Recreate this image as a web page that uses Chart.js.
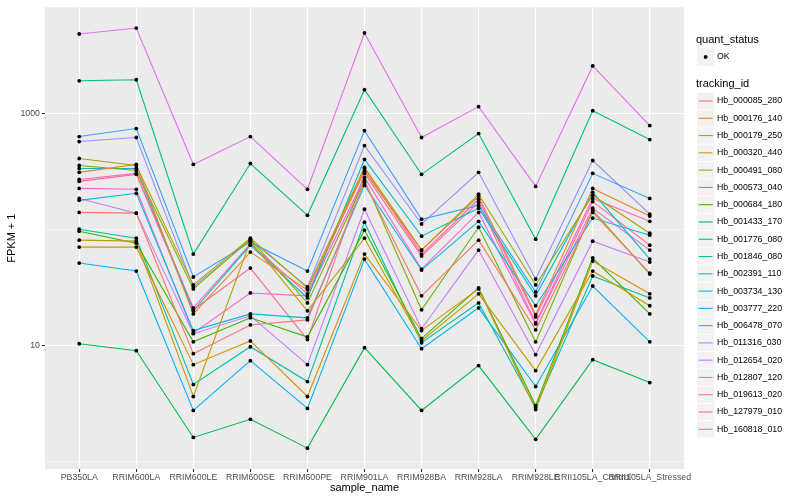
<!DOCTYPE html>
<html><head><meta charset="utf-8">
<script src="https://cdn.jsdelivr.net/npm/chart.js@4.4.0/dist/chart.umd.min.js"></script>
<style>html,body{margin:0;padding:0;background:#fff;}canvas{display:block;}</style>
</head><body>
<canvas id="c" width="800" height="500"></canvas>
<script>
// ---- data ----
const sampleNames = ['PB350LA','RRIM600LA','RRIM600LE','RRIM600SE','RRIM600PE','RRIM901LA','RRIM928BA','RRIM928LA','RRIM928LE','RRII105LA_Control','RRII105LA_Stressed'];
const trackingIds = ['Hb_000085_280','Hb_000176_140','Hb_000179_250','Hb_000320_440','Hb_000491_080','Hb_000573_040','Hb_000684_180','Hb_001433_170','Hb_001776_080','Hb_001846_080','Hb_002391_110','Hb_003734_130','Hb_003777_220','Hb_006478_070','Hb_011316_030','Hb_012654_020','Hb_012807_120','Hb_019613_020','Hb_127979_010','Hb_160818_010'];
const quantStatus = ['OK'];
const yTicks = [1, 10, 100, 1000];
const yTickLabels = ['', '10', '', '1000'];

const hb_000085_280 = [141, 139, 8.54, 15.1, 16.7, 256, 26.9, 81.3, 13.7, 141, 42.3];
const hb_000176_140 = [312, 365, 18.8, 64.1, 30.3, 318, 66.7, 194, 18.5, 227, 131];
const hb_000179_250 = [70.8, 70.8, 6.87, 11.0, 3.65, 61.6, 13.5, 30.9, 2.82, 53.7, 28.0];
const hb_000320_440 = [81.3, 79.7, 3.65, 79.7, 20.0, 84.6, 11.0, 28.0, 6.10, 44.0, 22.1];
const hb_000491_080 = [411, 358, 33.4, 84.6, 31.5, 344, 66.7, 202, 33.4, 198, 93.3];
const hb_000573_040 = [358, 324, 30.9, 82.9, 23.4, 266, 20.4, 105, 10.8, 147, 41.5];
const hb_000684_180 = [97.1, 76.6, 10.8, 17.4, 11.9, 99.0, 11.5, 31.5, 3.05, 57.0, 18.8];
const hb_001433_170 = [10.4, 9.06, 1.62, 2.32, 1.31, 9.62, 2.77, 6.74, 1.56, 7.58, 4.81];
const hb_001776_080 = [1920, 1960, 61.6, 372, 133, 1610, 300, 674, 82.9, 1061, 598];
const hb_001846_080 = [101, 84.6, 4.63, 9.80, 4.91, 116, 10.6, 23.4, 2.94, 39.9, 25.8];
const hb_002391_110 = [337, 337, 20.0, 73.6, 25.8, 403, 88.0, 153, 26.9, 210, 55.8];
const hb_003734_130 = [179, 206, 13.5, 18.8, 17.4, 241, 44.9, 118, 22.1, 126, 89.7];
const hb_003777_220 = [51.6, 44.0, 2.77, 7.43, 2.88, 55.8, 9.43, 21.2, 4.45, 32.7, 10.8];
const hb_006478_070 = [635, 744, 39.1, 78.1, 44.0, 715, 123, 162, 29.1, 306, 186];
const hb_011316_030 = [575, 623, 32.1, 81.3, 32.1, 531, 112, 312, 37.6, 395, 136];
const hb_012654_020 = [186, 139, 12.7, 18.1, 6.87, 150, 14.0, 66.7, 8.37, 79.7, 52.6];
const hb_012807_120 = [4860, 5470, 365, 635, 223, 4960, 623, 1150, 236, 2580, 789];
const hb_019613_020 = [227, 223, 12.9, 28.5, 26.9, 282, 45.8, 141, 15.4, 153, 66.7];
const hb_127979_010 = [271, 306, 21.2, 75.1, 28.0, 337, 61.6, 183, 17.7, 186, 118];
const hb_160818_010 = [261, 300, 20.4, 46.7, 11.3, 306, 59.2, 172, 15.7, 175, 73.6];

const seriesValues = [hb_000085_280, hb_000176_140, hb_000179_250, hb_000320_440, hb_000491_080, hb_000573_040, hb_000684_180, hb_001433_170, hb_001776_080, hb_001846_080, hb_002391_110, hb_003734_130, hb_003777_220, hb_006478_070, hb_011316_030, hb_012654_020, hb_012807_120, hb_019613_020, hb_127979_010, hb_160818_010];

// ---- style ----
const palette = ['#F8766D','#EA8331','#D89000','#C09B00','#A3A500','#7CAE00','#39B600','#00BB4E','#00BF7D','#00C1A3','#00BFC4','#00BAE0','#00B0F6','#35A2FF','#9590FF','#C77CFF','#E76BF3','#FA62DB','#FF62BC','#FF6C91'];
const FONT = '"Liberation Sans", Arial, Helvetica, sans-serif';

const datasets = trackingIds.map((id, i) => ({
  label: id,
  data: seriesValues[i].map((v, j) => ({x: j, y: v})),
  borderColor: palette[i],
  backgroundColor: palette[i],
  borderWidth: 1.1,
  pointRadius: 0,
  tension: 0,
  fill: false
}));

const panelBg = {
  id: 'panelBg',
  beforeDraw(chart) {
    const {ctx, chartArea: a} = chart;
    ctx.save();
    ctx.fillStyle = '#FFFFFF';
    ctx.fillRect(0, 0, chart.width, chart.height);
    ctx.fillStyle = '#EBEBEB';
    ctx.fillRect(a.left, a.top, a.right - a.left, a.bottom - a.top);
    ctx.restore();
  }
};

const pointsOnTop = {
  id: 'pointsOnTop',
  afterDatasetsDraw(chart) {
    const ctx = chart.ctx;
    ctx.save();
    ctx.fillStyle = '#000000';
    chart.data.datasets.forEach((ds, i) => {
      chart.getDatasetMeta(i).data.forEach(el => {
        ctx.beginPath();
        ctx.arc(el.x, el.y, 1.9, 0, Math.PI * 2);
        ctx.fill();
      });
    });
    ctx.restore();
  }
};

const ggLegend = {
  id: 'ggLegend',
  afterDraw(chart) {
    const ctx = chart.ctx;
    const x0 = 697, key = 17.28;
    ctx.save();
    ctx.textBaseline = 'middle';
    ctx.textAlign = 'left';
    ctx.fillStyle = '#000';
    ctx.font = '11px ' + FONT;
    ctx.fillText('quant_status', 696, 40);
    ctx.fillStyle = '#F2F2F2';
    ctx.fillRect(x0, 57 - key / 2, key, key);
    ctx.fillStyle = '#000';
    ctx.beginPath(); ctx.arc(x0 + key / 2, 57, 1.9, 0, Math.PI * 2); ctx.fill();
    ctx.font = '8.8px ' + FONT;
    ctx.fillText(quantStatus[0], 717, 57);
    ctx.font = '11px ' + FONT;
    ctx.fillText('tracking_id', 696, 84);
    chart.data.datasets.forEach((ds, i) => {
      const cy = 101 + i * key;
      ctx.fillStyle = '#F2F2F2';
      ctx.fillRect(x0, cy - key / 2 + 0.4, key, key - 0.8);
      ctx.strokeStyle = ds.borderColor;
      ctx.lineWidth = 1.1;
      ctx.beginPath(); ctx.moveTo(x0 + 1.7, cy); ctx.lineTo(x0 + key - 1.7, cy); ctx.stroke();
      ctx.fillStyle = '#000';
      ctx.font = '8.8px ' + FONT;
      ctx.fillText(ds.label, 717, cy);
    });
    ctx.restore();
  }
};

new Chart(document.getElementById('c'), {
  type: 'line',
  data: { datasets },
  plugins: [panelBg, pointsOnTop, ggLegend],
  options: {
    responsive: false,
    animation: false,
    devicePixelRatio: 1,
    layout: { padding: { left: 0, top: 5, right: 116, bottom: 0 } },
    plugins: { legend: { display: false }, tooltip: { enabled: false } },
    scales: {
      x: {
        type: 'linear', min: -0.6, max: 10.6,
        afterBuildTicks: s => { s.ticks = sampleNames.map((_, i) => ({ value: i })); },
        afterFit: s => { s.height = 31; },
        ticks: {
          autoSkip: false, maxRotation: 0, minRotation: 0, padding: 0.5,
          color: '#4D4D4D', font: { family: FONT, size: 8.8 },
          callback: (v) => sampleNames[v]
        },
        grid: { color: '#FFFFFF', lineWidth: 1.1, tickColor: '#333333', tickLength: 3, tickWidth: 1.1 },
        border: { display: false },
        title: { display: true, text: 'sample_name', color: '#000', font: { family: FONT, size: 11 }, padding: { top: 0, bottom: 5 } }
      },
      y: {
        type: 'logarithmic', min: 0.866, max: 8260,
        afterBuildTicks: s => { s.ticks = yTicks.map(v => ({ value: v })); },
        afterFit: s => { s.width = 45; },
        ticks: {
          padding: 2, color: '#4D4D4D', font: { family: FONT, size: 8.8 },
          callback: (v, i) => yTickLabels[i]
        },
        grid: {
          color: '#FFFFFF',
          lineWidth: c => (yTickLabels[c.index] ? 1.1 : 0.55),
          tickColor: c => (yTickLabels[c.index] ? '#333333' : 'rgba(0,0,0,0)'),
          tickLength: 3, tickWidth: 1.1
        },
        border: { display: false },
        title: { display: true, text: 'FPKM + 1', color: '#000', font: { family: FONT, size: 11 }, padding: { top: 5, bottom: 0 } }
      }
    }
  }
});
</script>
</body></html>
